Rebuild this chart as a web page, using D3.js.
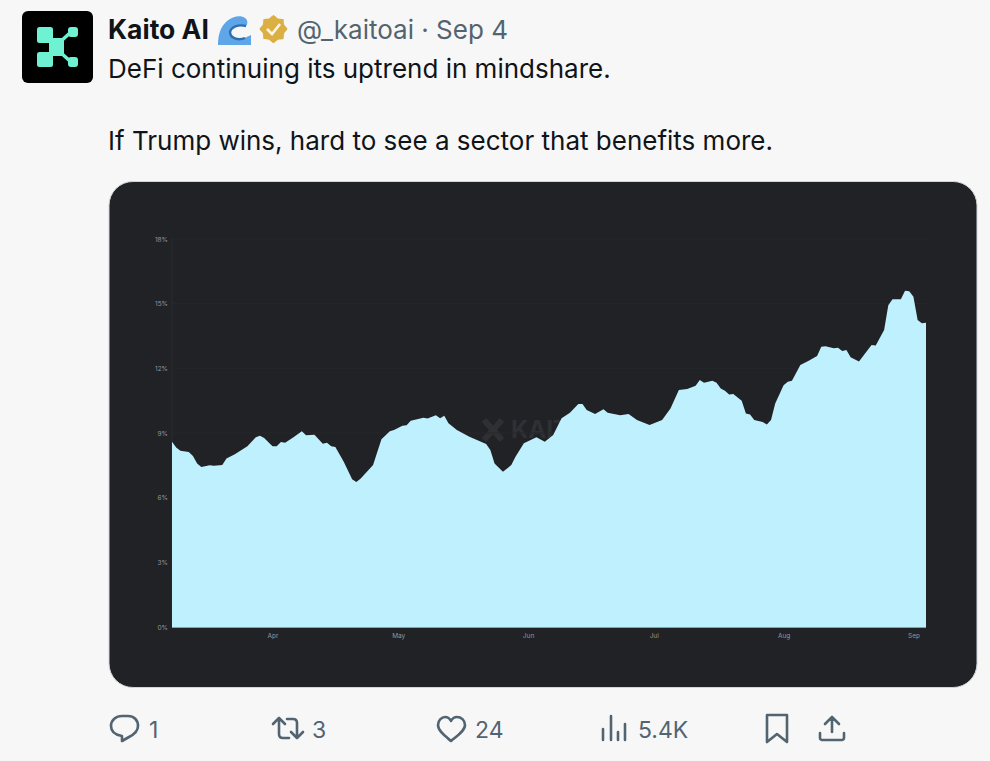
<!DOCTYPE html>
<html>
<head>
<meta charset="utf-8">
<script src="https://cdn.jsdelivr.net/npm/d3@7"></script>
<style>
    html, body { margin: 0; padding: 0; background: #f7f7f7; overflow: hidden; }
    svg { display: block; font-family: Inter, "Noto Sans", sans-serif; }
</style>
</head>
<body>
<div id="tweet"></div>
<script>
// values, one row per stretch of the curve
const dates = [
    "03-08","03-09","03-10","03-12","03-13","03-14","03-15","03-17","03-18","03-20","03-21","03-23","03-26","03-28","03-29","03-30",
    "04-01","04-02","04-03","04-04","04-06","04-08","04-09","04-11","04-13","04-14","04-15","04-16","04-18","04-20","04-21","04-22","04-25","04-27","04-29","04-30",
    "05-02","05-03","05-04","05-07","05-08","05-10","05-11","05-12","05-13","05-15","05-18","05-22","05-23","05-24","05-26","05-28","05-29","05-31",
    "06-03","06-05","06-07","06-09","06-11","06-13","06-14","06-15","06-17","06-19","06-20","06-23","06-25","06-27","06-30",
    "07-03","07-05","07-07","07-09","07-11","07-12","07-13","07-15","07-16","07-17","07-18","07-19","07-20","07-22","07-23","07-24","07-25","07-27","07-28","07-29","07-30",
    "08-01","08-02","08-03","08-05","08-07","08-09","08-10","08-11","08-13","08-14","08-15","08-16","08-17","08-19","08-20","08-22","08-23","08-25","08-26","08-27","08-29","08-30","08-31",
    "09-01","09-02","09-03","09-04"
];
const mindshare = [
    8.59,8.33,8.18,8.12,7.93,7.59,7.42,7.5,7.48,7.51,7.82,8.01,8.39,8.8,8.87,8.77,
    8.39,8.39,8.58,8.55,8.8,9.08,8.89,8.92,8.5,8.55,8.38,8.35,7.67,6.85,6.73,6.88,7.51,8.71,9.08,9.14,
    9.34,9.36,9.57,9.71,9.67,9.82,9.69,9.8,9.45,9.14,8.83,8.49,8.21,7.59,7.2,7.51,7.9,8.52,
    8.8,8.59,8.91,9.68,9.94,10.34,10.34,10.07,9.88,10.1,9.94,9.82,9.88,9.6,9.37,
    9.6,10.14,10.99,11.04,11.19,11.46,11.33,11.42,11.33,11.07,10.96,10.79,10.81,10.5,9.91,9.86,9.6,9.51,9.4,9.6,10.37,
    11.22,11.38,11.42,12.15,12.35,12.57,13.0,13.03,12.93,12.95,12.8,12.85,12.51,12.32,12.57,13.08,13.06,13.78,14.93,15.2,15.2,15.6,15.58,
    15.32,14.24,14.09,14.11
];
const yTicks = [0, 3, 6, 9, 12, 15, 18];

const width = 990, height = 761;
const ink = "#0f1419", muted = "#536471";

const svg = d3.select("#tweet").append("svg")
    .attr("width", width)
    .attr("height", height)
    .attr("viewBox", [0, 0, width, height]);

svg.append("rect").attr("width", width).attr("height", height).attr("fill", "#f7f7f7");

// avatar
const avatar = svg.append("g");
avatar.append("rect").attr("x", 22).attr("y", 11).attr("width", 71).attr("height", 72).attr("rx", 6).attr("fill", "#000");
const mint = "#6ff2d2";
avatar.append("rect").attr("x", 37).attr("y", 27).attr("width", 16).attr("height", 16).attr("rx", 2.5).attr("fill", mint);
avatar.append("rect").attr("x", 37).attr("y", 52).attr("width", 16).attr("height", 15).attr("rx", 2.5).attr("fill", mint);
avatar.append("rect").attr("x", 49).attr("y", 38).attr("width", 15).attr("height", 18).attr("rx", 2).attr("fill", mint);
avatar.append("rect").attr("x", 68).attr("y", 27).attr("width", 10).attr("height", 10).attr("rx", 3).attr("fill", mint);
avatar.append("rect").attr("x", 68).attr("y", 57).attr("width", 10).attr("height", 10).attr("rx", 3).attr("fill", mint);
avatar.append("path")
    .attr("d", "M60 42L71 32 M60 52L71 62")
    .attr("fill", "none").attr("stroke", mint).attr("stroke-width", 3.5);

// header line
svg.append("text").attr("x", 108).attr("y", 39).attr("font-size", 26.5).attr("font-weight", 700).attr("fill", ink).text("Kaito AI");

// wave badge
svg.append("path")
    .attr("d", "M218 45C218 36 220 27 227 21C233 16 241 15 245 18C248 20 248 24 246 26C239 24 232 26 231 32C231 37 238 40 244 38C247 37 249 36 251 35V45Z")
    .attr("fill", "#5ea6e8");
svg.append("path")
    .attr("d", "M246 26C238 24 231 27 230 32C230 38 238 41 245 38")
    .attr("fill", "none").attr("stroke", "#2f6fb0").attr("stroke-width", 2.4);

// verified badge
const badge = d3.range(16).map(i => {
    const r = i % 2 ? 11.5 : 14, a = i * Math.PI / 8;
    return [273.5 + r * Math.cos(a), 29 + r * Math.sin(a)];
});
svg.append("path").attr("d", d3.line().curve(d3.curveCardinalClosed.tension(0.6))(badge)).attr("fill", "#dcaf45");
svg.append("path").attr("d", "M267 29L272 34L280 24").attr("fill", "none").attr("stroke", "#fbf6e6").attr("stroke-width", 2.6);

svg.append("text").attr("x", 297).attr("y", 39).attr("font-size", 26).attr("fill", muted).text("@_kaitoai · Sep 4");

// tweet body
svg.append("text").attr("x", 108).attr("y", 78).attr("font-size", 26).attr("fill", ink).text("DeFi continuing its uptrend in mindshare.");
svg.append("text").attr("x", 108).attr("y", 150).attr("font-size", 26).attr("fill", ink).text("If Trump wins, hard to see a sector that benefits more.");

// chart card
svg.append("rect")
    .attr("x", 109).attr("y", 181.5)
    .attr("width", 868).attr("height", 506)
    .attr("rx", 24)
    .attr("fill", "#212226")
    .attr("stroke", "#d0d5d8");

// scales
const parseDate = d3.utcParse("%Y-%m-%d");
const points = dates.map((d, i) => ({date: parseDate("2024-" + d), value: mindshare[i]}));

const x = d3.scaleUtc()
    .domain(d3.extent(points, d => d.date))
    .range([172, 926]);

const y = d3.scaleLinear()
    .domain([0, 18])
    .range([627, 239]);

// watermark sits behind the area
const mark = svg.append("g").attr("fill", "none").attr("stroke", "#2f3034").attr("stroke-width", 6);
mark.append("path").attr("d", "M484 420L502 440M502 420L484 440");
svg.append("text").attr("x", 511).attr("y", 438).attr("font-size", 24).attr("font-weight", 700).attr("fill", "#2f3034").text("KAITO");

// faint grid
svg.append("g").selectAll("line")
    .data(yTicks.slice(1))
    .join("line")
    .attr("x1", 172).attr("x2", 926)
    .attr("y1", d => y(d)).attr("y2", d => y(d))
    .attr("stroke", "#26272b");

svg.append("line").attr("x1", 172).attr("x2", 172).attr("y1", 239).attr("y2", 627).attr("stroke", "#2a2c33");

// the area
const area = d3.area()
    .curve(d3.curveLinear)
    .x(d => x(d.date))
    .y0(y(0))
    .y1(d => y(d.value));

svg.append("path").datum(points).attr("d", area).attr("fill", "#bff0fd");

svg.append("line").attr("x1", 172).attr("x2", 926).attr("y1", 627.5).attr("y2", 627.5).attr("stroke", "#7fa6b0");

// axes
const xAxis = svg.append("g")
    .attr("transform", "translate(0,627)")
    .call(d3.axisBottom(x).ticks(d3.utcMonth.every(1)).tickFormat(d3.utcFormat("%b")).tickSize(0).tickPadding(6));

const yAxis = svg.append("g")
    .attr("transform", "translate(172,0)")
    .call(d3.axisLeft(y).tickValues(yTicks).tickFormat(d => d + "%").tickSize(0).tickPadding(4));

for (let axis of [xAxis, yAxis]) {
    axis.select(".domain").remove();
    axis.selectAll("text")
        .attr("fill", "#97979a")
        .style("font-size", "6.5px")
        .style("font-family", "Inter, sans-serif");
}

// action bar
const icon = d => svg.append("path")
    .attr("d", d)
    .attr("fill", "none")
    .attr("stroke", muted)
    .attr("stroke-width", 2.6)
    .attr("stroke-linejoin", "round")
    .attr("stroke-linecap", "round");

// reply
icon("M122 716H128C134 716 138 720 138 726C138 732 133 735 129 737L122 741V736C116 735 111 732 111 726C111 720 116 716 122 716Z");
// retweet
icon("M273 724L279 718L285 724M279 718V734C279 737 281 738 283 738H289 M303 732L297 738L291 732M297 738V723C297 720 295 719 293 719H287");
// like
icon("M451 741C445 736 438 731 438 725C438 720 442 717 445 717C448 717 450 719 451 721C452 719 454 717 457 717C461 717 465 720 465 725C465 731 457 736 451 741Z");
// views
icon("M603 729V740 M611 716V740 M618 732V740 M625 724V740");
// bookmark
icon("M767 715H787V742L777 734L767 742Z");
// share
icon("M832 718V732 M825 724L832 717L839 724 M820 733V738C820 739 821 740 822 740H842C843 740 844 739 844 738V733");

const counts = [["1", 149], ["3", 312], ["24", 475], ["5.4K", 638]];
svg.selectAll("text.count")
    .data(counts)
    .join("text")
    .attr("class", "count")
    .attr("x", d => d[1])
    .attr("y", 738)
    .attr("font-size", 23)
    .attr("fill", muted)
    .text(d => d[0]);
</script>
</body>
</html>
